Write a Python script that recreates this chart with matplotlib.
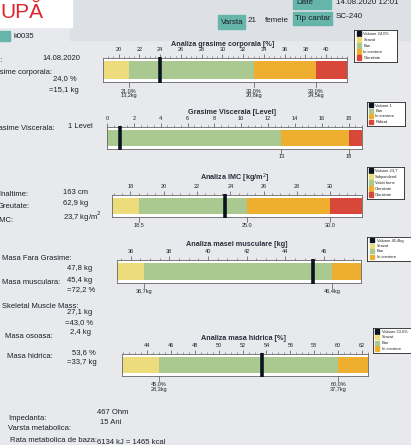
import matplotlib
matplotlib.use("Agg")
import matplotlib.pyplot as plt
from matplotlib.patches import Rectangle

plt.rcParams['font.family'] = ['Liberation Sans', 'DejaVu Sans']

W, H = 411, 445

# ---------------- data ----------------
fat_title = "Analiza grasime corporala [%]"
fat_bounds = [18.5, 21.0, 33.0, 39.0, 42.0]
fat_value = 24.0
fat_ticks = [20, 22, 24, 26, 28, 30, 32, 34, 36, 38, 40]
fat_marks = [21.0, 33.0, 39.0]
fat_marklabels = ["21,0%\n13,2kg", "33,0%\n20,8kg", "39,0%\n24,5kg"]
fat_legend = ["Valoare 24,0%", "Scazut", "Bun", "In crestere", "Obezitate"]

visc_title = "Grasime Viscerala [Level]"
visc_bounds = [0.0, 13.0, 18.0, 19.0]
visc_value = 1
visc_ticks = [0, 2, 4, 6, 8, 10, 12, 14, 16, 18]
visc_marks = [13, 18]
visc_marklabels = ["13", "18"]
visc_legend = ["Valoare 1", "Bun", "In crestere", "Ridicat"]

bmi_title = "Analiza IMC [kg/m$^2$]"
bmi_bounds = [16.9, 18.5, 25.0, 30.0, 31.9]
bmi_value = 23.7
bmi_ticks = [18, 20, 22, 24, 26, 28, 30]
bmi_marks = [18.5, 25.0, 30.0]
bmi_marklabels = ["18.5", "25.0", "30.0"]
bmi_legend = ["Valoare 23,7", "Subponderal", "Valori bune", "Obezitate", "Obezitate"]

mus_title = "Analiza masei musculare [kg]"
mus_bounds = [35.3, 36.7, 46.4, 47.9]
mus_value = 45.4
mus_ticks = [36, 38, 40, 42, 44, 46]
mus_marks = [36.7, 46.4]
mus_marklabels = ["36,7kg", "46,4kg"]
mus_legend = ["Valoare 45,4kg", "Scazut", "Bun", "In crestere"]

wat_title = "Analiza masa hidrica [%]"
wat_bounds = [41.9, 45.0, 60.0, 62.5]
wat_value = 53.6
wat_ticks = [44, 46, 48, 50, 52, 54, 56, 58, 60, 62]
wat_marks = [45.0, 60.0]
wat_marklabels = ["45,0%\n28,3kg", "60,0%\n37,7kg"]
wat_legend = ["Valoare 53,6%", "Scazut", "Bun", "In crestere"]

# ---------------- style ----------------
YEL = "#ecdc7c"
GRN = "#a9c990"
ORA = "#eeae30"
RED = "#d8483a"
MRK = "#0b1220"
TEAL = "#66b5aa"
BG = "#e7e9ed"
FS = 5.5

fig = plt.figure(figsize=(W / 100, H / 100), dpi=100)
fig.patch.set_facecolor(BG)


def fx(x):
    return x / W


def fy(y):
    return 1 - y / H


def T(x, y, s, **kw):
    kw.setdefault("fontsize", FS)
    kw.setdefault("va", "center")
    kw.setdefault("color", "#1c1f26")
    fig.text(fx(x), fy(y), s, **kw)


def box(x0, y0, x1, y1, color):
    fig.patches.append(Rectangle((fx(x0), fy(y1)), (x1 - x0) / W, (y1 - y0) / H,
                                 transform=fig.transFigure, color=color, zorder=-1))


def px_axes(x0, y0, x1, y1):
    return fig.add_axes([fx(x0), fy(y1), (x1 - x0) / W, (y1 - y0) / H])


def gauge(frame, bounds, colors, value, ticks, marks, marklabels, title, tpos):
    ax = px_axes(*frame)
    ax.set_facecolor("white")
    ax.set_xlim(bounds[0], bounds[-1])
    ax.set_ylim(0, 1)
    for b0, b1, c in zip(bounds[:-1], bounds[1:], colors):
        ax.barh(0.5, b1 - b0, left=b0, height=0.74, color=c, linewidth=0)
    ax.plot([value, value], [-0.06, 1.06], color=MRK, lw=2.6, solid_capstyle="butt",
            clip_on=False, zorder=5)
    ax.set_xticks(ticks)
    ax.set_xticks([t / 2 for t in range(int(bounds[0] * 2) + 1, int(bounds[-1] * 2) + 1)],
                  minor=True)
    ax.tick_params(axis="x", which="both", top=True, bottom=False, labeltop=True,
                   labelbottom=False, direction="out", colors="#555555",
                   labelcolor="#222222", labelsize=4.0, pad=1)
    ax.tick_params(axis="x", which="major", length=3, width=0.5)
    ax.tick_params(axis="x", which="minor", length=1.5, width=0.4)
    ax.set_yticks([])
    for s in ax.spines.values():
        s.set_linewidth(0.6)
        s.set_color("#666666")
    for m, lab in zip(marks, marklabels):
        ax.plot([m, m], [0, -0.22], color="#555555", lw=0.5, clip_on=False)
        ax.text(m, -0.25, lab, transform=ax.get_xaxis_transform(), ha="center",
                va="top", fontsize=4.0, color="#222222", linespacing=1.0)
    T(tpos[0], tpos[1], title, fontsize=5.2, fontweight="bold", ha="center",
      color="#2a2f3a")
    return ax


def legend(frame, labels, colors):
    ax = px_axes(*frame)
    ax.set_facecolor("white")
    ax.set_xlim(0, 1)
    n = len(labels)
    ax.set_ylim(n + 0.3, -0.1)
    ax.set_xticks([])
    ax.set_yticks([])
    for s in ax.spines.values():
        s.set_linewidth(0.6)
        s.set_color("#222222")
    for i, (lab, c) in enumerate(zip(labels, colors)):
        ax.add_patch(Rectangle((0.06, i + 0.15), 0.1, 0.75, color=c))
        ax.text(0.22, i + 0.55, lab, fontsize=2.9, va="center", ha="left",
                color="#222222")


# ---------------- header / background ----------------
box(70, 0, 411, 40, "#dde0e5")
box(0, 0, 72, 27, "white")
T(0, 13, "UPĂ", fontsize=15, color="#e0242a", ha="left")
box(293, 0, 331, 9, TEAL)
T(296, 3, "Date", fontsize=5.8, ha="left")
T(336, 2, "14.08.2020 12:01", fontsize=5.8, ha="left")
box(218, 15, 245, 29, TEAL)
T(221, 22, "Varsta", fontsize=5.8, ha="left")
T(248, 21, "21", fontsize=5.8, ha="left")
T(265, 20, "femeie", fontsize=5.8, ha="left")
box(293, 12, 332, 25, TEAL)
T(295, 18, "Tip cantar", fontsize=5.8, ha="left")
T(336, 16, "SC-240", fontsize=5.8, ha="left")
box(0, 31, 10, 41, TEAL)
T(13, 36, "k0035", fontsize=5.5, ha="left")

# ---------------- left column ----------------
T(3, 61, "Data:", ha="right")
T(42, 58, "14.08.2020", ha="left")
T(52, 72, "Grasime corporala:", ha="right")
T(53, 79, "24,0 %", ha="left")
T(49, 91, "=15,1 kg", ha="left")
T(55, 128, "Grasime Viscerala:", ha="right")
T(68, 126, "1 Level", ha="left")
T(28, 194, "Inaltime:", ha="right")
T(63, 192, "163 cm", ha="left")
T(30, 207, "Greutate:", ha="right")
T(63, 204, "62,9 kg", ha="left")
T(13, 220, "IMC:", ha="right")
T(63, 217, "23,7 kg/m$^2$", ha="left")
T(2, 259, "Masa Fara Grasime:", ha="left")
T(67, 268, "47,8 kg", ha="left")
T(2, 283, "Masa musculara:", ha="left")
T(67, 280, "45,4 kg", ha="left")
T(67, 290, "=72,2 %", ha="left")
T(2, 306, "Skeletal Muscle Mass:", ha="left")
T(67, 313, "27,1 kg", ha="left")
T(65, 323, "=43,0 %", ha="left")
T(5, 337, "Masa osoasa:", ha="left")
T(70, 333, "2,4 kg", ha="left")
T(7, 357, "Masa hidrica:", ha="left")
T(72, 353, "53,6 %", ha="left")
T(67, 363, "=33,7 kg", ha="left")
T(8, 418, "Impedanta:", ha="left")
T(97, 413, "467 Ohm", ha="left")
T(8, 428, "Varsta metabolica:", ha="left")
T(100, 423, "15 Ani", ha="left")
T(10, 440, "Rata metabolica de baza:", ha="left")
T(97, 443, "6134 kJ = 1465 kcal", ha="left")

# ---------------- gauges ----------------
gauge((103, 58, 347, 82), fat_bounds, [YEL, GRN, ORA, RED], fat_value, fat_ticks,
      fat_marks, fat_marklabels, fat_title, (223, 44))
legend((354, 30, 397, 62), fat_legend, [MRK, YEL, GRN, ORA, RED])

gauge((107, 127, 362, 149), visc_bounds, [GRN, ORA, RED], visc_value, visc_ticks,
      visc_marks, visc_marklabels, visc_title, (232, 112))
legend((367, 102, 405, 126), visc_legend, [MRK, GRN, ORA, RED])

gauge((112, 195, 362, 217), bmi_bounds, [YEL, GRN, ORA, RED], bmi_value, bmi_ticks,
      bmi_marks, bmi_marklabels, bmi_title, (235, 178))
legend((367, 167, 404, 199), bmi_legend, [MRK, YEL, GRN, ORA, RED])

gauge((117, 260, 361, 283), mus_bounds, [YEL, GRN, ORA], mus_value, mus_ticks,
      mus_marks, mus_marklabels, mus_title, (237, 245))
legend((367, 237, 411, 261), mus_legend, [MRK, YEL, GRN, ORA])

gauge((122, 354, 368, 376), wat_bounds, [YEL, GRN, ORA], wat_value, wat_ticks,
      wat_marks, wat_marklabels, wat_title, (243, 338))
legend((373, 328, 412, 353), wat_legend, [MRK, YEL, GRN, ORA])

fig.savefig("out.png", dpi=100, facecolor=fig.get_facecolor())
